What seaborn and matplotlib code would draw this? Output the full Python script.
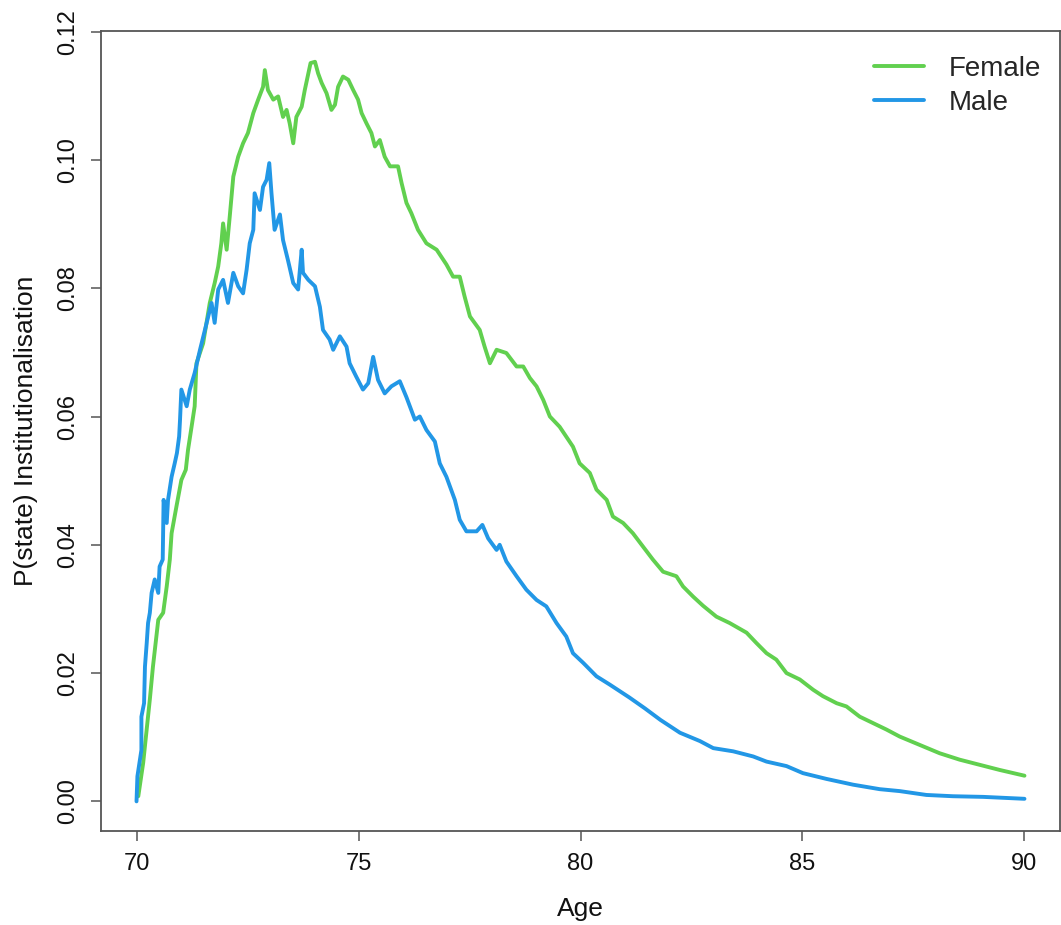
import pandas as pd
import seaborn as sns
import matplotlib.pyplot as plt

# Values
female_age = [70.04, 70.15, 70.30, 70.37, 70.49, 70.60, 70.68, 70.75, 70.79, 70.90,
              71.01, 71.11, 71.16, 71.24, 71.31, 71.35, 71.50, 71.65, 71.76, 71.84,
              71.91, 71.95, 72.03, 72.10, 72.18, 72.29, 72.40, 72.51, 72.63, 72.74,
              72.85, 72.89, 72.96, 73.08, 73.19, 73.30, 73.38, 73.45, 73.53, 73.60,
              73.72, 73.79, 73.92, 74.02, 74.09, 74.17, 74.28, 74.39, 74.47, 74.54,
              74.65, 74.77, 74.88, 74.99, 75.07, 75.18, 75.29, 75.37, 75.48, 75.59,
              75.71, 75.89, 75.97, 76.08, 76.19, 76.34, 76.53, 76.76, 76.98, 77.13,
              77.28, 77.39, 77.51, 77.73, 77.84, 77.96, 78.11, 78.33, 78.56, 78.71,
              78.86, 79.01, 79.16, 79.31, 79.53, 79.83, 79.98, 80.21, 80.36, 80.59,
              80.73, 80.96, 81.18, 81.41, 81.63, 81.86, 82.16, 82.31, 82.54, 82.76,
              83.06, 83.36, 83.74, 83.96, 84.19, 84.41, 84.64, 84.94, 85.24, 85.46,
              85.77, 85.99, 86.29, 86.59, 86.89, 87.19, 87.64, 88.09, 88.54, 88.99,
              89.44, 90.00]
female_p = [0.0008, 0.0060, 0.0159, 0.0210, 0.0283, 0.0294, 0.0335, 0.0377, 0.0418, 0.0460,
            0.0501, 0.0517, 0.0548, 0.0584, 0.0616, 0.0683, 0.0714, 0.0777, 0.0808, 0.0834,
            0.0870, 0.0901, 0.0860, 0.0912, 0.0974, 0.1005, 0.1026, 0.1042, 0.1073, 0.1094,
            0.1114, 0.1140, 0.1109, 0.1094, 0.1099, 0.1067, 0.1078, 0.1057, 0.1026, 0.1067,
            0.1083, 0.1109, 0.1151, 0.1153, 0.1135, 0.1120, 0.1104, 0.1078, 0.1086, 0.1114,
            0.1130, 0.1125, 0.1109, 0.1094, 0.1073, 0.1057, 0.1042, 0.1021, 0.1031, 0.1005,
            0.0990, 0.0990, 0.0964, 0.0933, 0.0917, 0.0891, 0.0870, 0.0860, 0.0837, 0.0818,
            0.0818, 0.0787, 0.0756, 0.0735, 0.0709, 0.0683, 0.0704, 0.0699, 0.0678, 0.0678,
            0.0660, 0.0647, 0.0626, 0.0600, 0.0584, 0.0553, 0.0527, 0.0512, 0.0486, 0.0470,
            0.0444, 0.0434, 0.0418, 0.0397, 0.0377, 0.0358, 0.0351, 0.0335, 0.0319, 0.0305,
            0.0288, 0.0278, 0.0263, 0.0247, 0.0231, 0.0221, 0.0200, 0.0190, 0.0174, 0.0164,
            0.0153, 0.0148, 0.0132, 0.0122, 0.0112, 0.0101, 0.0088, 0.0075, 0.0065, 0.0057,
            0.0049, 0.0040]

male_age = [70.00, 70.02, 70.11, 70.11, 70.17, 70.19, 70.23, 70.26, 70.30, 70.34,
            70.41, 70.49, 70.52, 70.59, 70.60, 70.61, 70.68, 70.71, 70.79, 70.86,
            70.91, 70.96, 70.98, 71.01, 71.13, 71.20, 71.31, 71.43, 71.58, 71.69,
            71.76, 71.84, 71.95, 72.06, 72.18, 72.29, 72.40, 72.48, 72.55, 72.63,
            72.66, 72.78, 72.85, 72.93, 72.99, 73.04, 73.11, 73.23, 73.30, 73.41,
            73.53, 73.64, 73.72, 73.75, 73.87, 74.02, 74.13, 74.20, 74.35, 74.43,
            74.58, 74.73, 74.80, 74.95, 75.10, 75.22, 75.33, 75.44, 75.59, 75.74,
            75.93, 76.08, 76.27, 76.38, 76.53, 76.72, 76.83, 76.98, 77.17, 77.28,
            77.43, 77.66, 77.79, 77.92, 78.11, 78.18, 78.33, 78.56, 78.78, 79.01,
            79.23, 79.46, 79.68, 79.83, 80.06, 80.36, 80.66, 81.10, 81.45, 81.80,
            82.24, 82.69, 82.99, 83.44, 83.89, 84.19, 84.64, 85.01, 85.54, 86.14,
            86.74, 87.19, 87.79, 88.39, 89.07, 90.00]
male_p = [0.0000, 0.0039, 0.0080, 0.0132, 0.0153, 0.0210, 0.0247, 0.0278, 0.0294, 0.0325,
          0.0346, 0.0325, 0.0366, 0.0377, 0.0423, 0.0470, 0.0434, 0.0470, 0.0506, 0.0527,
          0.0543, 0.0569, 0.0595, 0.0642, 0.0616, 0.0642, 0.0668, 0.0704, 0.0746, 0.0777,
          0.0746, 0.0798, 0.0813, 0.0777, 0.0824, 0.0803, 0.0792, 0.0829, 0.0870, 0.0891,
          0.0948, 0.0922, 0.0958, 0.0969, 0.0995, 0.0948, 0.0891, 0.0915, 0.0875, 0.0844,
          0.0808, 0.0798, 0.0860, 0.0824, 0.0813, 0.0803, 0.0771, 0.0735, 0.0720, 0.0704,
          0.0725, 0.0709, 0.0683, 0.0662, 0.0642, 0.0652, 0.0693, 0.0657, 0.0636, 0.0647,
          0.0655, 0.0630, 0.0595, 0.0600, 0.0579, 0.0561, 0.0527, 0.0506, 0.0470, 0.0439,
          0.0421, 0.0421, 0.0431, 0.0410, 0.0392, 0.0400, 0.0374, 0.0351, 0.0330, 0.0314,
          0.0304, 0.0278, 0.0257, 0.0231, 0.0216, 0.0195, 0.0182, 0.0162, 0.0145, 0.0127,
          0.0107, 0.0094, 0.0083, 0.0078, 0.0070, 0.0062, 0.0055, 0.0044, 0.0035, 0.0026,
          0.0019, 0.0016, 0.0010, 0.0008, 0.0007, 0.0004]

sex_labels = ["Female", "Male"]
sex_colors = {"Female": "#61D04F", "Male": "#2297E6"}

df = pd.concat([
    pd.DataFrame({"Age": female_age, "P": female_p, "Sex": "Female"}),
    pd.DataFrame({"Age": male_age, "P": male_p, "Sex": "Male"}),
], ignore_index=True)

sns.set_theme(style="ticks")
plt.rcParams["font.family"] = ["Liberation Sans", "DejaVu Sans"]

fig = plt.figure(figsize=(10.61, 9.25), dpi=100)
ax = fig.add_axes([101 / 1061, 94 / 925, 959 / 1061, 800 / 925])

sns.lineplot(data=df, x="Age", y="P", hue="Sex", hue_order=sex_labels,
             palette=sex_colors, estimator=None, sort=False, linewidth=2.8, ax=ax)

ax.set_xlim(69.2, 90.8)
ax.set_ylim(-0.00462, 0.1201)
ax.set_xticks([70, 75, 80, 85, 90])
ax.set_yticks([0.0, 0.02, 0.04, 0.06, 0.08, 0.10, 0.12])
ax.set_yticklabels(["0.00", "0.02", "0.04", "0.06", "0.08", "0.10", "0.12"],
                   rotation=90, va="center")

for s in ax.spines.values():
    s.set_visible(True)
    s.set_color("#555555")
    s.set_linewidth(1.3)
ax.tick_params(axis="both", length=7, width=1.1, color="#555555",
               labelsize=17, labelcolor="#111111", pad=9)

ax.set_xlabel("Age", fontsize=19, color="#111111")
ax.set_ylabel("P(state) Institutionalisation", fontsize=19, color="#111111")
ax.xaxis.set_label_coords(0.5, -0.082)
ax.yaxis.set_label_coords(-0.066, 0.5)

leg = ax.legend(frameon=False, fontsize=20, loc="upper right",
                bbox_to_anchor=(1055 / 1061, 1 - 42 / 925), bbox_transform=fig.transFigure,
                handlelength=1.8, handletextpad=0.9, labelspacing=0.28, borderpad=0)
for line in leg.get_lines():
    line.set_linewidth(2.8)

fig.savefig("out.png", dpi=100)
